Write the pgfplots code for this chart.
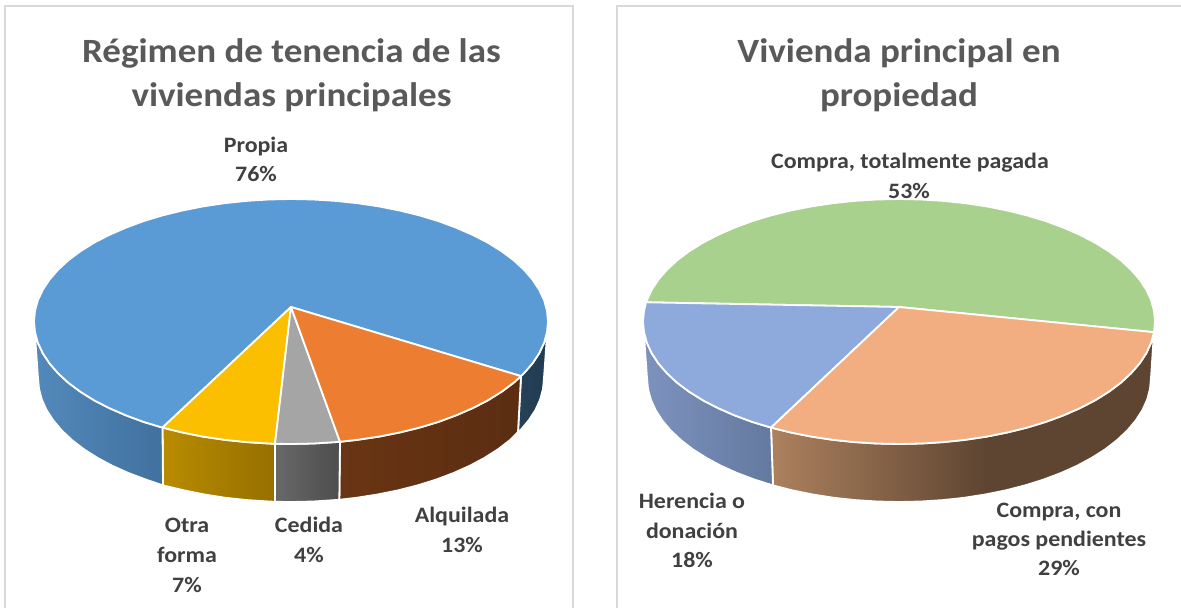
\documentclass[border=0pt]{standalone}
\usepackage{fontspec}
\setmainfont[FakeStretch=1.088]{Carlito}
\usepackage{pgfplots}
\pgfplotsset{compat=1.18}
\definecolor{bord}{HTML}{D9D9D9}
\definecolor{ttl}{HTML}{595959}
\definecolor{lab}{HTML}{404040}
\definecolor{cblue}{HTML}{5B9BD5}
\definecolor{corange}{HTML}{ED7D31}
\definecolor{cgrey}{HTML}{A5A5A5}
\definecolor{cyellow}{HTML}{FCBF00}
\definecolor{cgreen}{HTML}{A9D18E}
\definecolor{clorange}{HTML}{F2AE80}
\definecolor{clblue}{HTML}{8EA9DB}
\definecolor{wa}{HTML}{AD815E}
\definecolor{wb}{HTML}{5E4532}
\definecolor{dbl1}{HTML}{274257}
\definecolor{dbl2}{HTML}{1F3A52}
\definecolor{or1}{HTML}{693514}
\definecolor{or2}{HTML}{5B2D11}
\definecolor{gr1}{HTML}{686868}
\definecolor{gr2}{HTML}{4D4D4D}
\definecolor{ye1}{HTML}{B88B00}
\definecolor{ye2}{HTML}{967000}
\definecolor{bl1}{HTML}{5389BB}
\definecolor{bl2}{HTML}{41719E}
\definecolor{lb1}{HTML}{7D93BE}
\definecolor{lb2}{HTML}{64799F}
\pgfdeclarehorizontalshading{orw}{100bp}{color(0bp)=(wa); color(25bp)=(wa); color(53bp)=(wb); color(100bp)=(wb)}
\newcommand{\ttlnode}[3]{\node[anchor=base,inner sep=0pt,text=ttl,font=\fontsize{34}{40}\selectfont\bfseries] at (axis cs:#1,#2) {#3};}
\newcommand{\labnode}[3]{\node[anchor=base,inner sep=0pt,text=lab,font=\fontsize{22}{26}\selectfont\bfseries] at (axis cs:#1,#2) {#3};}
\begin{document}
\begin{tikzpicture}
\begin{axis}[
  scale only axis, width=1181pt, height=608pt,
  xmin=0, xmax=1181, ymin=0, ymax=608, y dir=reverse,
  hide axis,
  wedge/.style={draw=white, line width=1.8pt, line join=round},
  wall/.style={draw=white, line width=1.8pt, line join=round, shade, shading angle=0},
]
% page
\addplot[fill=white, draw=none] coordinates {(0,0)(1181,0)(1181,608)(0,608)} --cycle;
\addplot[draw=bord, line width=2pt] coordinates {(5,608)(5,6)(573,6)(573,608)};
\addplot[draw=bord, line width=2pt] coordinates {(617,608)(617,6)(1181,6)};

% LEFT PIE walls
\addplot[wall, left color=dbl1, right color=dbl2] coordinates {(521,376.1)(523.9,373.3)(532.5,363.4)(539.2,353.2)(544.1,342.8)(547,332.2)(548,321.5)(544,378)(543,388.8)(540.2,399.5)(535.4,410.1)(528.7,420.4)(520.3,430.4)(518,432)} --cycle;
\addplot[wall, left color=or1, right color=or2] coordinates {(340,441.8)(357.5,439.8)(378.9,436.6)(399.6,432.5)(419.5,427.6)(438.4,421.9)(456.2,415.3)(472.7,408.1)(487.9,400.3)(501.5,391.8)(513.6,382.8)(521,376.1)(518,432)(510.1,440)(498.3,449.1)(484.8,457.7)(469.9,465.7)(453.6,473)(436.1,479.6)(417.5,485.4)(397.9,490.4)(377.5,494.5)(356.5,497.8)(339.3,499.8)} --cycle;
\addplot[wall, left color=gr1, right color=gr2] coordinates {(275,443.8)(291,444)(313.4,443.5)(335.6,442.1)(340,441.8)(339.3,499.8)(334.9,500.1)(313.1,501.5)(291,502)(275,501.8)} --cycle;
\addplot[wall, left color=ye1, right color=ye2] coordinates {(162.5,427.6)(182.4,432.5)(203.1,436.6)(224.5,439.8)(246.4,442.1)(268.6,443.5)(275,443.8)(275,501.8)(268.9,501.5)(247.1,500.1)(225.5,497.8)(204.5,494.5)(184.1,490.4)(163,485.4)} --cycle;
\addplot[wall, left color=bl1, right color=bl2] coordinates {(34,321.5)(35,332.2)(37.9,342.8)(42.8,353.2)(49.5,363.4)(58.1,373.3)(68.4,382.8)(80.5,391.8)(94.1,400.3)(109.3,408.1)(125.8,415.3)(143.6,421.9)(162.5,427.6)(163,485.4)(145.9,479.6)(128.4,473)(112.1,465.7)(97.2,457.7)(83.7,449.1)(71.9,440)(61.7,430.4)(53.3,420.4)(46.6,410.1)(41.8,399.5)(39,388.8)(38,378)} --cycle;

% LEFT PIE top
\addplot[wedge, fill=cblue] coordinates {(291,307)(521,376.1)(523.9,373.3)(532.5,363.4)(539.2,353.2)(544.1,342.8)(547,332.2)(548,321.5)(547,310.8)(544.1,300.2)(539.2,289.8)(532.5,279.6)(523.9,269.7)(513.6,260.2)(501.5,251.2)(487.9,242.7)(472.7,234.9)(456.2,227.7)(438.4,221.1)(419.5,215.4)(399.6,210.5)(378.9,206.4)(357.5,203.2)(335.6,200.9)(313.4,199.5)(291,199)(268.6,199.5)(246.4,200.9)(224.5,203.2)(203.1,206.4)(182.4,210.5)(162.5,215.4)(143.6,221.1)(125.8,227.7)(109.3,234.9)(94.1,242.7)(80.5,251.2)(68.4,260.2)(58.1,269.7)(49.5,279.6)(42.8,289.8)(37.9,300.2)(35,310.8)(34,321.5)(35,332.2)(37.9,342.8)(42.8,353.2)(49.5,363.4)(58.1,373.3)(68.4,382.8)(80.5,391.8)(94.1,400.3)(109.3,408.1)(125.8,415.3)(143.6,421.9)(162.5,427.6)} --cycle;
\addplot[wedge, fill=cyellow] coordinates {(291,307)(162.5,427.6)(182.4,432.5)(203.1,436.6)(224.5,439.8)(246.4,442.1)(268.6,443.5)(275,443.8)} --cycle;
\addplot[wedge, fill=cgrey] coordinates {(291,307)(275,443.8)(291,444)(313.4,443.5)(335.6,442.1)(340,441.8)} --cycle;
\addplot[wedge, fill=corange] coordinates {(291,307)(340,441.8)(357.5,439.8)(378.9,436.6)(399.6,432.5)(419.5,427.6)(438.4,421.9)(456.2,415.3)(472.7,408.1)(487.9,400.3)(501.5,391.8)(513.6,382.8)(521,376.1)} --cycle;

% RIGHT PIE walls
\addplot[wall, shading=orw] coordinates {(771,427.6)(790.8,432.5)(811.4,436.6)(832.7,439.8)(854.5,442.1)(876.7,443.5)(899,444)(921.3,443.5)(943.5,442.1)(965.3,439.8)(986.6,436.6)(1007.2,432.5)(1027,427.6)(1045.8,421.9)(1063.6,415.3)(1080,408.1)(1095.1,400.3)(1108.7,391.8)(1120.7,382.8)(1131,373.3)(1139.6,363.4)(1146.3,353.2)(1151.1,342.8)(1154,332.2)(1151,378)(1150,388.8)(1147.2,399.5)(1142.4,410.1)(1135.8,420.4)(1127.4,430.4)(1117.2,440)(1105.5,449.1)(1092,457.7)(1077.2,465.7)(1061,473)(1043.5,479.6)(1025,485.4)(1005.5,490.4)(985.2,494.5)(964.2,497.8)(942.7,500.1)(921,501.5)(899,502)(877,501.5)(855.3,500.1)(833.8,497.8)(812.8,494.5)(792.5,490.4)(773,485.4)} --cycle;
\addplot[wall, left color=lb1, right color=lb2] coordinates {(643,321.5)(644,332.2)(646.9,342.8)(651.7,353.2)(658.4,363.4)(667,373.3)(677.3,382.8)(689.3,391.8)(702.9,400.3)(718,408.1)(734.4,415.3)(752.2,421.9)(771,427.6)(773,485.4)(754.5,479.6)(737,473)(720.8,465.7)(706,457.7)(692.5,449.1)(680.8,440)(670.6,430.4)(662.2,420.4)(655.6,410.1)(650.8,399.5)(648,388.8)(647,378)} --cycle;

% RIGHT PIE top
\addplot[wedge, fill=cgreen] coordinates {(899,307)(1154,332.2)(1155,321.5)(1154,310.8)(1151.1,300.2)(1146.3,289.8)(1139.6,279.6)(1131,269.7)(1120.7,260.2)(1108.7,251.2)(1095.1,242.7)(1080,234.9)(1063.6,227.7)(1045.8,221.1)(1027,215.4)(1007.2,210.5)(986.6,206.4)(965.3,203.2)(943.5,200.9)(921.3,199.5)(899,199)(876.7,199.5)(854.5,200.9)(832.7,203.2)(811.4,206.4)(790.8,210.5)(771,215.4)(752.2,221.1)(734.4,227.7)(718,234.9)(702.9,242.7)(689.3,251.2)(677.3,260.2)(667,269.7)(658.4,279.6)(651.7,289.8)(646.9,300.2)(646.1,302.3)} --cycle;
\addplot[wedge, fill=clblue] coordinates {(899,307)(646.1,302.3)(644,310.8)(643,321.5)(644,332.2)(646.9,342.8)(651.7,353.2)(658.4,363.4)(667,373.3)(677.3,382.8)(689.3,391.8)(702.9,400.3)(718,408.1)(734.4,415.3)(752.2,421.9)(771,427.6)} --cycle;
\addplot[wedge, fill=clorange] coordinates {(899,307)(771,427.6)(790.8,432.5)(811.4,436.6)(832.7,439.8)(854.5,442.1)(876.7,443.5)(899,444)(921.3,443.5)(943.5,442.1)(965.3,439.8)(986.6,436.6)(1007.2,432.5)(1027,427.6)(1045.8,421.9)(1063.6,415.3)(1080,408.1)(1095.1,400.3)(1108.7,391.8)(1120.7,382.8)(1131,373.3)(1139.6,363.4)(1146.3,353.2)(1151.1,342.8)(1154,332.2)} --cycle;

% titles
\ttlnode{291.5}{62}{Régimen de tenencia de las}
\ttlnode{291.5}{106}{viviendas principales}
\ttlnode{899}{62}{Vivienda principal en}
\ttlnode{899}{106}{propiedad}
% labels
\labnode{256}{152}{Propia}
\labnode{256}{181}{76\%}
\labnode{187}{532}{Otra}
\labnode{187}{562}{forma}
\labnode{187}{592}{7\%}
\labnode{309}{532}{Cedida}
\labnode{309}{562}{4\%}
\labnode{462}{522}{Alquilada}
\labnode{462}{552}{13\%}
\labnode{910}{168}{Compra, totalmente pagada}
\labnode{909}{198}{53\%}
\labnode{692}{508}{Herencia o}
\labnode{692}{538}{donación}
\labnode{692}{567}{18\%}
\labnode{1059}{517}{Compra, con}
\labnode{1059}{546}{pagos pendientes}
\labnode{1059}{575}{29\%}
\end{axis}
\end{tikzpicture}
\end{document}
